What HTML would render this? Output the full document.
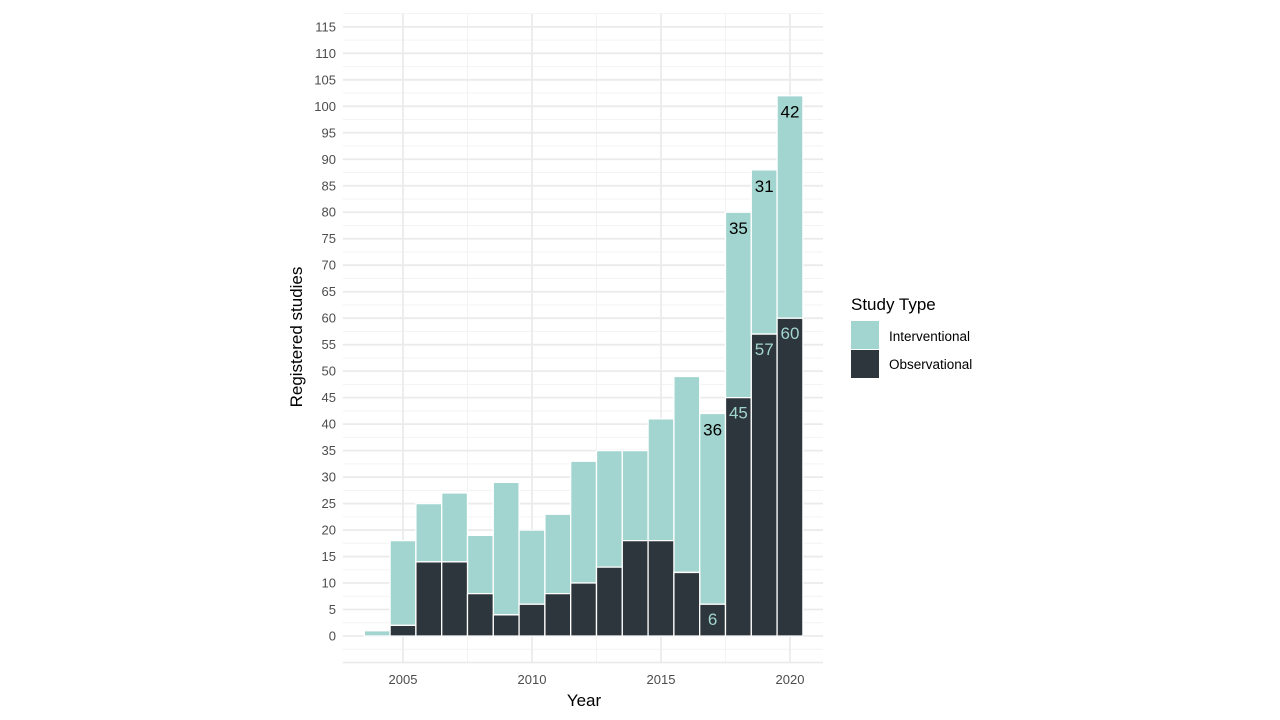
<!DOCTYPE html>
<html><head><meta charset="utf-8"><style>body{margin:0;background:#fff}svg{display:block}text{font-family:"Liberation Sans",Arial,sans-serif}</style></head>
<body>
<svg width="1280" height="720" viewBox="0 0 1280 720" xmlns="http://www.w3.org/2000/svg">
<g transform="matrix(25.8,0,0,-5.297,-51326,636)">
<g stroke="#F3F3F3" stroke-width="1" vector-effect="non-scaling-stroke">
<path vector-effect="non-scaling-stroke" d="M2002.67,-2.5H2021.28M2002.67,2.5H2021.28M2002.67,7.5H2021.28M2002.67,12.5H2021.28M2002.67,17.5H2021.28M2002.67,22.5H2021.28M2002.67,27.5H2021.28M2002.67,32.5H2021.28M2002.67,37.5H2021.28M2002.67,42.5H2021.28M2002.67,47.5H2021.28M2002.67,52.5H2021.28M2002.67,57.5H2021.28M2002.67,62.5H2021.28M2002.67,67.5H2021.28M2002.67,72.5H2021.28M2002.67,77.5H2021.28M2002.67,82.5H2021.28M2002.67,87.5H2021.28M2002.67,92.5H2021.28M2002.67,97.5H2021.28M2002.67,102.5H2021.28M2002.67,107.5H2021.28M2002.67,112.5H2021.28M2002.67,117.5H2021.28M2007.5,-5V117.5M2012.5,-5V117.5M2017.5,-5V117.5"/>
</g>
<path vector-effect="non-scaling-stroke" stroke="#EBEBEB" stroke-width="1.8" fill="none" d="M2002.67,-5H2021.28M2002.67,0H2021.28M2002.67,5H2021.28M2002.67,10H2021.28M2002.67,15H2021.28M2002.67,20H2021.28M2002.67,25H2021.28M2002.67,30H2021.28M2002.67,35H2021.28M2002.67,40H2021.28M2002.67,45H2021.28M2002.67,50H2021.28M2002.67,55H2021.28M2002.67,60H2021.28M2002.67,65H2021.28M2002.67,70H2021.28M2002.67,75H2021.28M2002.67,80H2021.28M2002.67,85H2021.28M2002.67,90H2021.28M2002.67,95H2021.28M2002.67,100H2021.28M2002.67,105H2021.28M2002.67,110H2021.28M2002.67,115H2021.28M2005,-5V117.5M2010,-5V117.5M2015,-5V117.5M2020,-5V117.5"/>
<g fill="#A3D5D0" stroke="#fff" stroke-width="1.3">
<rect vector-effect="non-scaling-stroke" x="2003.5" y="0" width="1" height="1"/>
<rect vector-effect="non-scaling-stroke" x="2004.5" y="2" width="1" height="16"/>
<rect vector-effect="non-scaling-stroke" x="2005.5" y="14" width="1" height="11"/>
<rect vector-effect="non-scaling-stroke" x="2006.5" y="14" width="1" height="13"/>
<rect vector-effect="non-scaling-stroke" x="2007.5" y="8" width="1" height="11"/>
<rect vector-effect="non-scaling-stroke" x="2008.5" y="4" width="1" height="25"/>
<rect vector-effect="non-scaling-stroke" x="2009.5" y="6" width="1" height="14"/>
<rect vector-effect="non-scaling-stroke" x="2010.5" y="8" width="1" height="15"/>
<rect vector-effect="non-scaling-stroke" x="2011.5" y="10" width="1" height="23"/>
<rect vector-effect="non-scaling-stroke" x="2012.5" y="13" width="1" height="22"/>
<rect vector-effect="non-scaling-stroke" x="2013.5" y="18" width="1" height="17"/>
<rect vector-effect="non-scaling-stroke" x="2014.5" y="18" width="1" height="23"/>
<rect vector-effect="non-scaling-stroke" x="2015.5" y="12" width="1" height="37"/>
<rect vector-effect="non-scaling-stroke" x="2016.5" y="6" width="1" height="36"/>
<rect vector-effect="non-scaling-stroke" x="2017.5" y="45" width="1" height="35"/>
<rect vector-effect="non-scaling-stroke" x="2018.5" y="57" width="1" height="31"/>
<rect vector-effect="non-scaling-stroke" x="2019.5" y="60" width="1" height="42"/>
</g>
<g fill="#2D363C" stroke="#fff" stroke-width="1.3">
<rect vector-effect="non-scaling-stroke" x="2004.5" y="0" width="1" height="2"/>
<rect vector-effect="non-scaling-stroke" x="2005.5" y="0" width="1" height="14"/>
<rect vector-effect="non-scaling-stroke" x="2006.5" y="0" width="1" height="14"/>
<rect vector-effect="non-scaling-stroke" x="2007.5" y="0" width="1" height="8"/>
<rect vector-effect="non-scaling-stroke" x="2008.5" y="0" width="1" height="4"/>
<rect vector-effect="non-scaling-stroke" x="2009.5" y="0" width="1" height="6"/>
<rect vector-effect="non-scaling-stroke" x="2010.5" y="0" width="1" height="8"/>
<rect vector-effect="non-scaling-stroke" x="2011.5" y="0" width="1" height="10"/>
<rect vector-effect="non-scaling-stroke" x="2012.5" y="0" width="1" height="13"/>
<rect vector-effect="non-scaling-stroke" x="2013.5" y="0" width="1" height="18"/>
<rect vector-effect="non-scaling-stroke" x="2014.5" y="0" width="1" height="18"/>
<rect vector-effect="non-scaling-stroke" x="2015.5" y="0" width="1" height="12"/>
<rect vector-effect="non-scaling-stroke" x="2016.5" y="0" width="1" height="6"/>
<rect vector-effect="non-scaling-stroke" x="2017.5" y="0" width="1" height="45"/>
<rect vector-effect="non-scaling-stroke" x="2018.5" y="0" width="1" height="57"/>
<rect vector-effect="non-scaling-stroke" x="2019.5" y="0" width="1" height="60"/>
</g>
</g>
<g font-size="13" text-anchor="end" fill="#4D4D4D">
<text x="336" y="640.5">0</text><text x="336" y="614">5</text><text x="336" y="587.5">10</text><text x="336" y="561">15</text><text x="336" y="534.6">20</text><text x="336" y="508.1">25</text><text x="336" y="481.6">30</text><text x="336" y="455.1">35</text><text x="336" y="428.6">40</text><text x="336" y="402.1">45</text><text x="336" y="375.7">50</text><text x="336" y="349.2">55</text><text x="336" y="322.7">60</text><text x="336" y="296.2">65</text><text x="336" y="269.7">70</text><text x="336" y="243.2">75</text><text x="336" y="216.7">80</text><text x="336" y="190.3">85</text><text x="336" y="163.8">90</text><text x="336" y="137.3">95</text><text x="336" y="110.8">100</text><text x="336" y="84.3">105</text><text x="336" y="57.8">110</text><text x="336" y="31.3">115</text>
</g>
<g font-size="13" text-anchor="middle" fill="#4D4D4D">
<text x="403" y="684">2005</text><text x="532" y="684">2010</text><text x="661" y="684">2015</text><text x="790" y="684">2020</text>
</g>
<g font-size="17" text-anchor="middle" fill="#000">
<text x="712.6" y="435.5">36</text><text x="738.4" y="234.2">35</text><text x="764.2" y="191.9">31</text><text x="790" y="117.7">42</text>
</g>
<g font-size="17" text-anchor="middle" fill="#A3D5D0">
<text x="712.6" y="625.2">6</text><text x="738.4" y="418.6">45</text><text x="764.2" y="355.1">57</text><text x="790" y="339.2">60</text>
</g>
<text x="584" y="706" font-size="17" text-anchor="middle" fill="#000">Year</text>
<text transform="translate(302,337) rotate(-90)" font-size="17" text-anchor="middle" fill="#000">Registered studies</text>
<text x="851" y="310" font-size="17" fill="#000">Study Type</text>
<rect x="851" y="321" width="28" height="28" fill="#A3D5D0"/>
<rect x="851" y="350" width="28" height="28" fill="#2D363C"/>
<text x="889" y="341" font-size="13.5" fill="#000">Interventional</text>
<text x="889" y="369" font-size="13.5" fill="#000">Observational</text>
</svg>
</body></html>
